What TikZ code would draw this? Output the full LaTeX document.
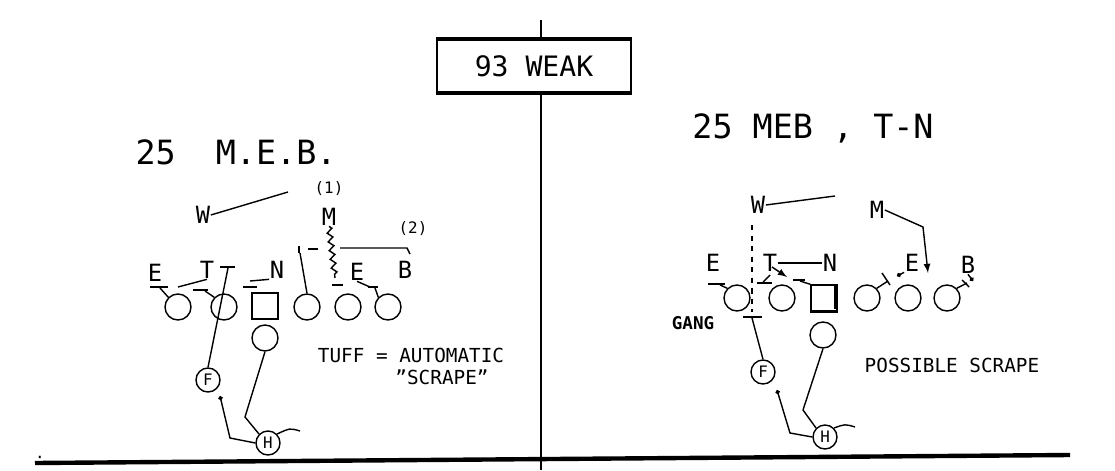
\documentclass[tikz,border=0pt]{standalone}
\usepackage{fontspec}
\setmainfont{DejaVu Sans Mono}
\usetikzlibrary{arrows.meta,decorations.pathmorphing}

\tikzset{
  man/.style={circle, draw, minimum size=0.52cm, inner sep=0pt},
  back/.style={circle, draw, minimum size=0.48cm, inner sep=0pt, font=\fontsize{9}{9}\selectfont},
  ctr/.style={draw, minimum size=0.52cm, inner sep=0pt},
  def/.style={inner sep=0pt, font=\fontsize{13.5}{13.5}\selectfont},
  note/.style={inner sep=0pt, font=\fontsize{11}{11}\selectfont},
  blk/.style={line width=1.3pt},
  dot/.style={-{Circle[length=2.5pt]}},
}

\begin{document}
\begin{tikzpicture}[x=0.02cm, y=-0.02cm, line width=0.8pt]
\useasboundingbox (0,0) rectangle (1115,470);
\draw (541,20) -- (541,470); % divider
\draw[line width=2.5pt] (35,463) -- (1070,455); % bottom line
\node[inner sep=0pt, font=\fontsize{9}{9}\selectfont] (mark) at (40,460) {:};
\node[draw, fill=white, minimum width=3.88cm, minimum height=1.06cm, font=\fontsize{16}{16}\selectfont] (call) at (534,66) {93 WEAK};
\draw[line width=2pt] (call.north west) -- (call.north east) (call.south west) -- (call.south east); % heavy box edges
\node[inner sep=0pt, font=\fontsize{19}{19}\selectfont] (ltitle) at (236,152) {25\ \ M.E.B.};
\node[inner sep=0pt, font=\fontsize{19}{19}\selectfont] (rtitle) at (813,128) {25 MEB , T-N};

% left: offense
\node[man] (l1) at (178,307) {};
\node[man] (l2) at (224,307) {};
\node[ctr] (lc) at (265,306) {};
\node[man] (l4) at (307,307) {};
\node[man] (l5) at (348,307) {};
\node[man] (l6) at (388,307) {};
\node[man] (lq) at (265,338) {};
\node[back] (lF) at (208,380) {F};
\node[back] (lH) at (268,443) {H};

% left: defense
\node[def] (lE) at (155,273) {E};
\node[def] (lT) at (207,270) {T};
\node[def] (lN) at (277,270) {N};
\node[def] (lE2) at (357,272) {E};
\node[def] (lB) at (405,270) {B};
\node[def] (lM) at (329,217) {M};
\node[def] (lW) at (203,215) {W};
\node[note, font=\fontsize{9}{9}\selectfont] (lone) at (329,189) {(1)};
\node[note, font=\fontsize{9}{9}\selectfont] (ltwo) at (413,229) {(2)};
\coordinate (lWend) at (288,192);
\draw (lW.east) -- (lWend); % W drop
\draw (lT.south) -- (178,287); % T step
\draw[blk] (150,287) -- (168,287); \draw (160,288) -- (l1.north west);
\draw[blk] (193,290) -- (208,290); \draw (205,291) -- (l2.north west);
\draw (lN.south west) -- (250,281); \draw[blk] (243,287) -- (257,287);
\draw[blk] (220,267) -- (235,267); \draw (228,268) -- (lF.north); % F fill
\draw[decorate, decoration={zigzag, amplitude=1.5pt, segment length=5pt}] (lM.south) -- (335,278); % M scrape
\draw[blk] (332,285) -- (343,285);
\draw (340,248) -- (407,248) -- (410,254); % M to (2)
\draw (318,249) -- (308,249);
\draw (l4.north) -- (300,253); \draw[blk] (299,246) -- (299,253);
\draw (lE2.south) -- (370,287); \draw[blk] (368,287) -- (378,287); \draw (375,288) -- (l6.north west);
\draw (lq.south) -- (245,417) -- (lH.north west); % tail back
\draw[dot] (lH.west) -- (230,438) -- (220,396); % H lead
\draw (lH.north east) .. controls (290,428) .. (300,431);
\node[note] (tuff) at (411,355) {TUFF = AUTOMATIC};
\node[note] (scrape) at (442,377) {\symbol{34}SCRAPE\symbol{34}};

% right: offense
\node[man] (r1) at (737,298) {};
\node[man] (r2) at (782,298) {};
\node[ctr] (rc) at (824,298) {};
\node[man] (r4) at (867,298) {};
\node[man] (r5) at (908,298) {};
\node[man] (r6) at (947,298) {};
\node[man] (rq) at (823,335) {};
\node[back] (rF) at (763,372) {F};
\node[back] (rH) at (825,437) {H};
\draw[line width=2.5pt] (rc.north east) ++(-2,0) -- ++(0,25); % heavy center edge
\draw[line width=1.5pt] (rc.south west) -- (rc.south east);

% right: defense
\node[def] (rE) at (713,263) {E};
\node[def] (rT) at (770,263) {T};
\node[def] (rN) at (830,263) {N};
\node[def] (rE2) at (912,263) {E};
\node[def] (rB) at (968,265) {B};
\node[def] (rM) at (877,210) {M};
\node[def] (rW) at (758,205) {W};
\coordinate (rWend) at (835,196);
\draw (rW.east) -- (rWend); % W drop
\draw[dashed] (752,225) -- (752,312); % W alley
\draw (rT.east) -- (rN.west); % T-N exchange
\draw[-latex] (772,267) -- (787,277);
\draw (770,275) -- (763,282); \draw[blk] (757,283) -- (772,283);
\draw[blk] (708,284) -- (725,284); \draw (720,285) -- (r1.north west);
\draw[blk] (793,280) -- (805,280); \draw (800,281) -- (rc.north west);
\draw (r4.north east) -- (888,281); \draw (882,273) -- (890,285);
\draw[dot] (rE2.south west) -- (897,276);
\draw[dot] (rB.south) -- (973,281);
\draw (r6.north east) -- (967,283); \draw (962,280) -- (969,287);
\draw[-latex] (rM.east) -- (923,227) -- (928,273); % M scrape
\draw[blk] (743,317) -- (762,317); \draw (752,318) -- (rF.north); % gang
\node[inner sep=0pt, font=\bfseries\fontsize{10}{10}\selectfont] (gang) at (693,323) {GANG};
\draw (rq.south) -- (803,410) -- (rH.north west); % tail back
\draw[dot] (rH.west) -- (790,433) -- (777,390); % H lead
\draw (rH.north east) .. controls (845,424) .. (855,427);
\node[note] (possible) at (952,365) {POSSIBLE SCRAPE};
\end{tikzpicture}
\end{document}
